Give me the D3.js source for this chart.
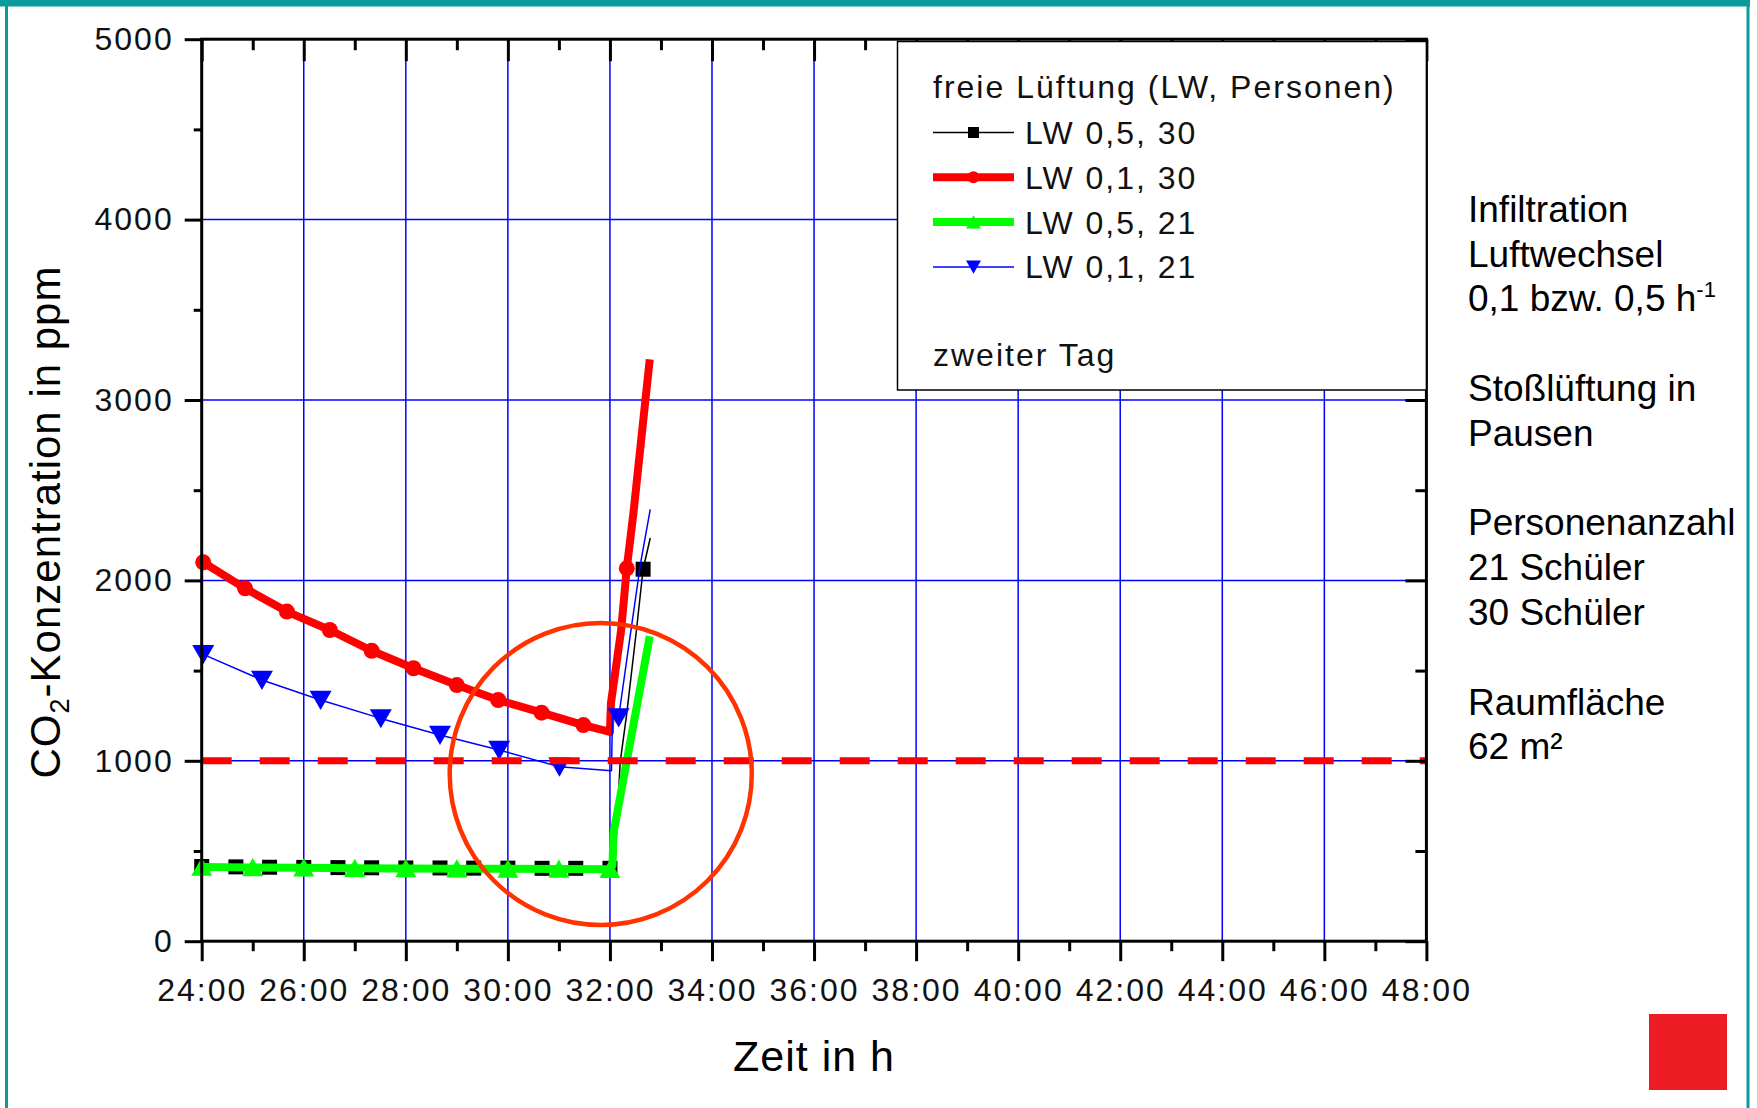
<!DOCTYPE html>
<html>
<head>
<meta charset="utf-8">
<script src="https://cdn.jsdelivr.net/npm/d3@7"></script>
<style>
  html, body { margin: 0; padding: 0; background: #fff; }
  svg { display: block; font-family: "Liberation Sans", Arial, sans-serif; }
</style>
</head>
<body>
<svg id="chart" width="1757" height="1108"></svg>
<script>
// Axis ticks (time in hours, CO2 in ppm)
const xTickHours = [24, 26, 28, 30, 32, 34, 36, 38, 40, 42, 44, 46, 48];
const xTickLabels = ['24:00', '26:00', '28:00', '30:00', '32:00', '34:00', '36:00', '38:00', '40:00', '42:00', '44:00', '46:00', '48:00'];
const xMinorHours = [25, 27, 29, 31, 33, 35, 37, 39, 41, 43, 45, 47];
const yTickValues = [0, 1000, 2000, 3000, 4000, 5000];
const yMinorValues = [500, 1500, 2500, 3500, 4500];
const xGridHours = [26, 28, 30, 32, 34, 36, 38, 40, 42, 44, 46];
const yGridValues = [1000, 2000, 3000, 4000];

// LW 0,5, 30
const blackT = [24.0, 24.67, 25.33, 26.0, 26.67, 27.33, 28.0, 28.67, 29.33, 30.0, 30.67, 31.33, 32.0, 32.1, 32.2, 32.33, 32.52, 32.65, 32.79];
const blackV = [414, 412, 410, 409, 408, 407, 406, 406, 405, 405, 404, 404, 404, 432, 990, 1263, 1725, 2062, 2235];
const blackMarks = [0, 1, 2, 3, 4, 5, 6, 7, 8, 9, 10, 11, 12, 17];

// LW 0,1, 30
const redT = [24.03, 24.85, 25.67, 26.51, 27.33, 28.15, 29.0, 29.81, 30.66, 31.48, 32.0, 32.02, 32.22, 32.33, 32.46, 32.78];
const redV = [2100, 1956, 1827, 1725, 1610, 1513, 1420, 1337, 1267, 1198, 1160, 1320, 1725, 2067, 2372, 3225];
const redMarks = [0, 1, 2, 3, 4, 5, 6, 7, 8, 9, 13];

// LW 0,5, 21
const greenT = [24, 25, 26, 27, 28, 29, 30, 31, 32, 32.05, 32.07, 32.78];
const greenV = [412, 409, 407, 405, 403, 402, 401, 400, 399, 420, 600, 1690];
const greenMarks = [0, 1, 2, 3, 4, 5, 6, 7, 8];

// LW 0,1, 21
const blueT = [24.03, 25.18, 26.33, 27.51, 28.67, 29.83, 31.01, 32.03, 32.05, 32.17, 32.4, 32.6, 32.79];
const blueV = [1590, 1448, 1337, 1235, 1143, 1060, 967, 945, 1250, 1240, 1700, 2095, 2394];
const blueMarks = [0, 1, 2, 3, 4, 5, 6, 9];

const limitPpm = 1000;
const highlight = { t: 31.82, v: 927, rt: 2.96, rv: 837 };

const legendTitle = 'freie Lüftung (LW, Personen)';
const legendNote = 'zweiter Tag';
const notes = [
  { row: 0, text: 'Infiltration' },
  { row: 1, text: 'Luftwechsel' },
  { row: 2, text: '0,1 bzw. 0,5 h', sup: '-1' },
  { row: 4, text: 'Stoßlüftung in' },
  { row: 5, text: 'Pausen' },
  { row: 7, text: 'Personenanzahl' },
  { row: 8, text: '21 Schüler' },
  { row: 9, text: '30 Schüler' },
  { row: 11, text: 'Raumfläche' },
  { row: 12, text: '62 m²' }
];

const series = [
  { name: 'LW 0,5, 30', t: blackT, v: blackV, marks: blackMarks, color: '#000000', width: 1.5, symbol: 'square' },
  { name: 'LW 0,1, 30', t: redT, v: redV, marks: redMarks, color: '#ff0000', width: 8, symbol: 'circle' },
  { name: 'LW 0,5, 21', t: greenT, v: greenV, marks: greenMarks, color: '#00ff00', width: 8, symbol: 'up' },
  { name: 'LW 0,1, 21', t: blueT, v: blueV, marks: blueMarks, color: '#0000ff', width: 1.5, symbol: 'down' }
];

const plot = { left: 201.7, right: 1426.4, top: 39.2, bottom: 941.2 };
const teal = '#0a9a9c';

const svg = d3.select('#chart');

// Slide frame
svg.append('rect').attr('x', 0).attr('y', 0).attr('width', 1750).attr('height', 6.5).attr('fill', teal);
svg.append('rect').attr('x', 5).attr('y', 0).attr('width', 3).attr('height', 1108).attr('fill', teal);
svg.append('rect').attr('x', 1746.5).attr('y', 0).attr('width', 3).attr('height', 1108).attr('fill', teal);

const x = d3.scaleLinear().domain([24, 48]).range([plot.left, plot.right]);
const y = d3.scaleLinear().domain([0, 5000]).range([plot.bottom, plot.top]);

// Grid
const grid = svg.append('g').attr('class', 'grid');
grid.selectAll('line.gx').data(xGridHours).enter().append('line')
  .attr('x1', d => x(d)).attr('x2', d => x(d))
  .attr('y1', plot.bottom).attr('y2', plot.top + 20)
  .attr('stroke', '#0000ff').attr('stroke-width', 1.5);
grid.selectAll('line.gy').data(yGridValues).enter().append('line')
  .attr('x1', plot.left).attr('x2', plot.right)
  .attr('y1', d => y(d)).attr('y2', d => y(d))
  .attr('stroke', '#0000ff').attr('stroke-width', 1.5);

// Symbols
function symbolPath(kind, s) {
  if (kind === 'square') return `M${-s / 2},${-s / 2}h${s}v${s}h${-s}Z`;
  if (kind === 'up') return `M0,${-s * 0.45}L${s / 2},${s * 0.42}L${-s / 2},${s * 0.42}Z`;
  if (kind === 'down') return `M0,${s * 0.45}L${s / 2},${-s * 0.42}L${-s / 2},${-s * 0.42}Z`;
  return d3.symbol(d3.symbolCircle, Math.PI * s * s / 4)();
}
const markerSize = { square: 15, circle: 16, up: 21, down: 22 };
const legendMarkerSize = { square: 11, circle: 12, up: 15, down: 15 };

// Series
const seriesGroup = svg.append('g').attr('class', 'series');
series.forEach(s => {
  const idx = d3.range(s.t.length);
  const line = d3.line()
    .x(i => x(s.t[i]))
    .y(i => y(s.v[i]));

  seriesGroup.append('path')
    .datum(idx)
    .attr('d', line)
    .attr('fill', 'none')
    .attr('stroke', s.color)
    .attr('stroke-width', s.width)
    .attr('stroke-linejoin', 'round');

  seriesGroup.selectAll(null)
    .data(s.marks)
    .enter()
    .append('path')
    .attr('d', symbolPath(s.symbol, markerSize[s.symbol]))
    .attr('transform', i => `translate(${x(s.t[i])},${y(s.v[i])})`)
    .attr('fill', s.color);
});

// 1000 ppm limit
svg.append('line')
  .attr('x1', x(24)).attr('x2', x(48))
  .attr('y1', y(limitPpm)).attr('y2', y(limitPpm))
  .attr('stroke', '#ff0000')
  .attr('stroke-width', 7)
  .attr('stroke-dasharray', '30 28');

// Highlight circle
svg.append('ellipse')
  .attr('cx', x(highlight.t))
  .attr('cy', y(highlight.v))
  .attr('rx', x(highlight.t + highlight.rt) - x(highlight.t))
  .attr('ry', y(highlight.v - highlight.rv) - y(highlight.v))
  .attr('fill', 'none')
  .attr('stroke', '#ff3300')
  .attr('stroke-width', 4.5);

// Axes
function styleAxis(g) {
  g.select('.domain').remove();
  g.selectAll('.tick line').attr('stroke', '#000').attr('stroke-width', 3);
  g.selectAll('.tick text')
    .attr('fill', '#111')
    .style('font-size', '32px')
    .style('letter-spacing', '2px')
    .style('font-family', '"Liberation Sans", Arial, sans-serif');
}

svg.append('g')
  .attr('transform', `translate(0,${plot.bottom})`)
  .call(d3.axisBottom(x).tickValues(xTickHours).tickSize(20).tickPadding(17)
    .tickFormat((d, i) => xTickLabels[i]))
  .call(styleAxis);
svg.append('g')
  .attr('transform', `translate(0,${plot.bottom})`)
  .call(d3.axisBottom(x).tickValues(xMinorHours).tickSize(10).tickFormat(''))
  .call(styleAxis);

svg.append('g')
  .attr('transform', `translate(0,${plot.top})`)
  .call(d3.axisTop(x).tickValues(xTickHours).tickSize(-22).tickFormat(''))
  .call(styleAxis);
svg.append('g')
  .attr('transform', `translate(0,${plot.top})`)
  .call(d3.axisTop(x).tickValues(xMinorHours).tickSize(-11).tickFormat(''))
  .call(styleAxis);

svg.append('g')
  .attr('transform', `translate(${plot.left},0)`)
  .call(d3.axisLeft(y).tickValues(yTickValues).tickSize(17).tickPadding(11)
    .tickFormat(d3.format('d')))
  .call(styleAxis);
svg.append('g')
  .attr('transform', `translate(${plot.left},0)`)
  .call(d3.axisLeft(y).tickValues(yMinorValues).tickSize(8).tickFormat(''))
  .call(styleAxis);

svg.append('g')
  .attr('transform', `translate(${plot.right},0)`)
  .call(d3.axisRight(y).tickValues(yTickValues).tickSize(-21).tickFormat(''))
  .call(styleAxis);
svg.append('g')
  .attr('transform', `translate(${plot.right},0)`)
  .call(d3.axisRight(y).tickValues(yMinorValues).tickSize(-11).tickFormat(''))
  .call(styleAxis);

// Plot frame
svg.append('rect')
  .attr('x', plot.left).attr('y', plot.top)
  .attr('width', plot.right - plot.left).attr('height', plot.bottom - plot.top)
  .attr('fill', 'none').attr('stroke', '#000').attr('stroke-width', 3);

// Axis titles
svg.append('text')
  .attr('x', (plot.left + plot.right) / 2)
  .attr('y', 1071)
  .attr('text-anchor', 'middle')
  .style('font-size', '43px')
  .style('letter-spacing', '1px')
  .attr('fill', '#000')
  .text('Zeit in h');

const yTitle = svg.append('text')
  .attr('transform', 'translate(60,522) rotate(-90)')
  .attr('text-anchor', 'middle')
  .style('font-size', '42px')
  .style('letter-spacing', '1px')
  .attr('fill', '#000');
yTitle.append('tspan').text('CO');
yTitle.append('tspan').attr('dy', 9).style('font-size', '27px').text('2');
yTitle.append('tspan').attr('dy', -9).text('-Konzentration in ppm');

// Legend
const lg = { x: 897.5, y: 41.5, w: plot.right - 897.5, h: 348.5 };
const legend = svg.append('g');
legend.append('rect')
  .attr('x', lg.x).attr('y', lg.y).attr('width', lg.w).attr('height', lg.h)
  .attr('fill', '#fff').attr('stroke', '#000').attr('stroke-width', 1.5);
legend.append('text')
  .attr('x', 933).attr('y', 97.5)
  .style('font-size', '32px').style('letter-spacing', '2px')
  .attr('fill', '#111')
  .text(legendTitle);
series.forEach((s, k) => {
  const cy = 132.5 + k * 44.8;
  legend.append('line')
    .attr('x1', 933).attr('x2', 1014).attr('y1', cy).attr('y2', cy)
    .attr('stroke', s.color).attr('stroke-width', s.width);
  legend.append('path')
    .attr('d', symbolPath(s.symbol, legendMarkerSize[s.symbol]))
    .attr('transform', `translate(973.5,${cy})`)
    .attr('fill', s.color);
  legend.append('text')
    .attr('x', 1025).attr('y', cy + 11.5)
    .style('font-size', '32px').style('letter-spacing', '2px')
    .attr('fill', '#111')
    .text(s.name);
});
legend.append('text')
  .attr('x', 933).attr('y', 366)
  .style('font-size', '32px').style('letter-spacing', '2px')
  .attr('fill', '#111')
  .text(legendNote);

// Side notes
const noteGroup = svg.append('g');
notes.forEach(n => {
  const t = noteGroup.append('text')
    .attr('x', 1468)
    .attr('y', 221.7 + n.row * 44.8)
    .style('font-size', '37px')
    .attr('fill', '#000');
  t.append('tspan').text(n.text);
  if (n.sup) {
    t.append('tspan').attr('dy', -14).style('font-size', '22px').text(n.sup);
  }
});

// Red corner mark
svg.append('rect')
  .attr('x', 1649).attr('y', 1014).attr('width', 78).attr('height', 76)
  .attr('fill', '#ed1c24');
</script>
</body>
</html>
